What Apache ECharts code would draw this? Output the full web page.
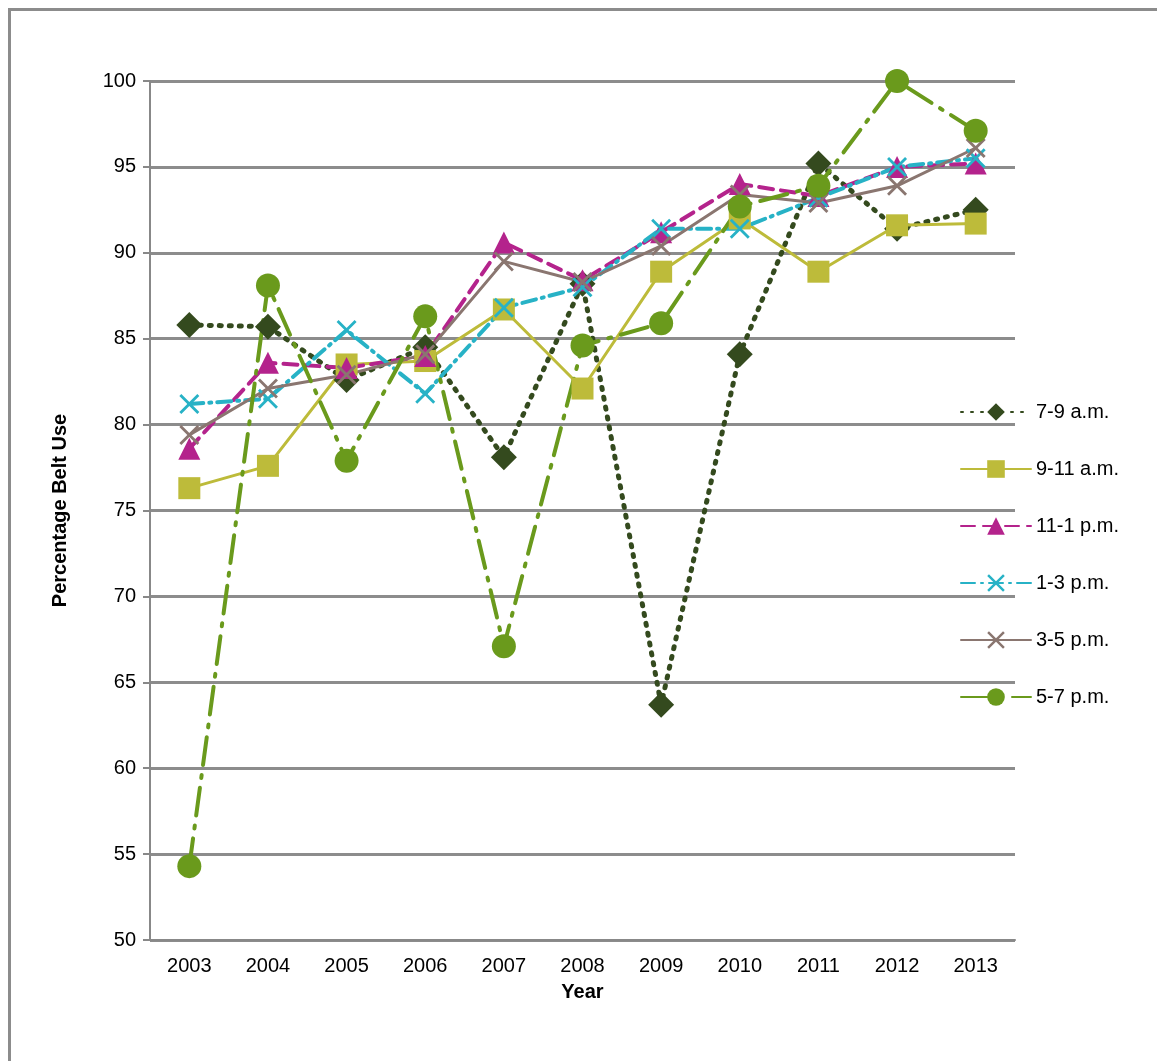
<!DOCTYPE html>
<html><head><meta charset="utf-8">
<script src="https://cdn.jsdelivr.net/npm/echarts@6/dist/echarts.min.js"></script>
<style>body{margin:0;background:#fff}#c{width:1157px;height:1061px}
#f{position:absolute;left:8px;top:8px;width:1160px;height:1070px;border:3px solid #8c8c8c;box-sizing:border-box;pointer-events:none}</style>
</head><body><div id="c"></div><div id="f"></div>
<script>
var years = ['2003','2004','2005','2006','2007','2008','2009','2010','2011','2012','2013'];
var s79  = [85.8,85.7,82.6,84.5,78.1,88.2,63.7,84.1,95.2,91.4,92.5];
var s911 = [76.3,77.6,83.5,83.7,86.7,82.1,88.9,92.0,88.9,91.6,91.7];
var s111 = [78.6,83.6,83.3,84.0,90.6,88.4,91.2,94.0,93.3,95.0,95.2];
var s13  = [81.2,81.5,85.5,81.8,86.8,88.0,91.4,91.4,93.2,95.0,95.5];
var s35  = [79.4,82.1,82.9,84.1,89.5,88.3,90.4,93.4,92.9,93.9,96.1];
var s57  = [54.3,88.1,77.9,86.3,67.1,84.6,85.9,92.7,93.9,100.0,97.1];

var chart = echarts.init(document.getElementById('c'));
function ser(name, data, color, symbol, size, type, width) {
    return {name: name, type: 'line', data: data, symbol: symbol, symbolSize: size,
        itemStyle: {color: color}, lineStyle: {color: color, type: type, width: width, cap: 'round'}};
}
chart.setOption({
    animation: false,
    textStyle: {fontFamily: 'Liberation Sans, Arial', color: '#000'},
    grid: {left: 150, right: 142, top: 81, bottom: 121},
    legend: {
        orient: 'vertical', left: 955, top: 397, itemGap: 37, itemWidth: 70, itemHeight: 22,
        textStyle: {fontSize: 20, color: '#000'},
        data: ['7-9 a.m.','9-11 a.m.','11-1 p.m.','1-3 p.m.','3-5 p.m.','5-7 p.m.']
    },
    xAxis: {
        type: 'category', data: years, name: 'Year', nameLocation: 'middle', nameGap: 42,
        nameTextStyle: {fontSize: 20, fontWeight: 'bold'},
        axisLine: {lineStyle: {color: '#888', width: 2}},
        axisTick: {lineStyle: {color: '#888', width: 2}, length: 8},
        axisLabel: {fontSize: 20, color: '#000', margin: 16}
    },
    yAxis: {
        type: 'value', min: 50, max: 100, interval: 5,
        name: 'Percentage Belt Use', nameLocation: 'middle', nameGap: 80,
        nameTextStyle: {fontSize: 20, fontWeight: 'bold'},
        axisLine: {show: true, lineStyle: {color: '#888', width: 2}},
        axisTick: {show: true, lineStyle: {color: '#888', width: 2}, length: 7},
        axisLabel: {fontSize: 20, color: '#000', margin: 14},
        splitLine: {lineStyle: {color: '#8c8c8c', width: 3}}
    },
    series: [
        ser('7-9 a.m.', s79, '#344a1e', 'diamond', 26, [2, 8], 5),
        ser('9-11 a.m.', s911, '#bdbb3a', 'rect', 22, 'solid', 3),
        ser('11-1 p.m.', s111, '#b4238c', 'triangle', 22, [14, 8], 4),
        ser('1-3 p.m.', s13, '#27b2c6', 'path://M0,2L2,0L10,8L18,0L20,2L12,10L20,18L18,20L10,12L2,20L0,18L8,10Z', 20, [14, 6, 2, 6], 4),
        ser('3-5 p.m.', s35, '#8a7670', 'path://M0,2L2,0L10,8L18,0L20,2L12,10L20,18L18,20L10,12L2,20L0,18L8,10Z', 20, 'solid', 3),
        ser('5-7 p.m.', s57, '#6a9a1c', 'circle', 24, [28, 10, 3, 10], 4)
    ]
});
</script></body></html>
